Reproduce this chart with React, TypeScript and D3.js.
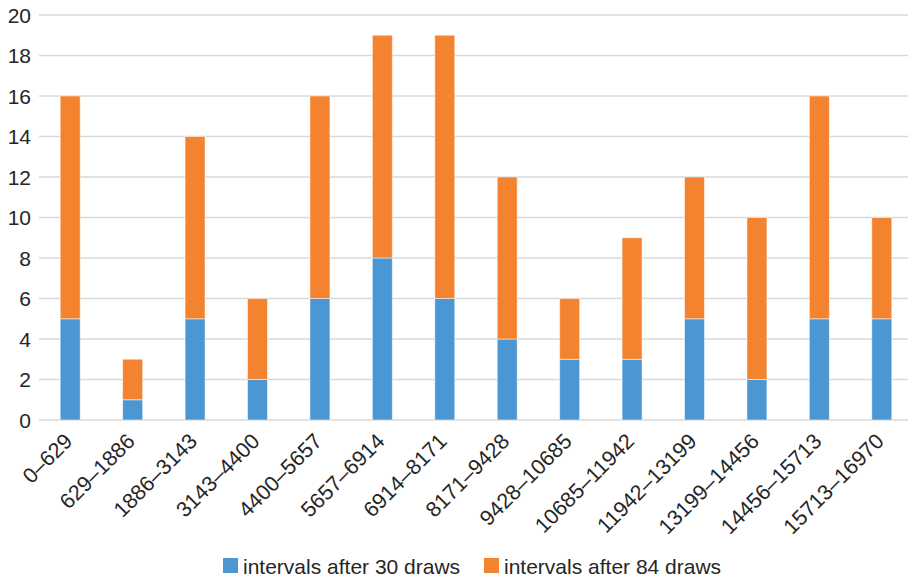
import React from "react";
import * as d3 from "d3";

const categories = [
  "0–629", "629–1886", "1886–3143", "3143–4400", "4400–5657", "5657–6914",
  "6914–8171", "8171–9428", "9428–10685", "10685–11942", "11942–13199",
  "13199–14456", "14456–15713", "15713–16970",
];
const after30 = [5, 1, 5, 2, 6, 8, 6, 4, 3, 3, 5, 2, 5, 5];
const after84 = [11, 2, 9, 4, 10, 11, 13, 8, 3, 6, 7, 8, 11, 5];
const yTicks = [0, 2, 4, 6, 8, 10, 12, 14, 16, 18, 20];
const seriesNames = ["intervals after 30 draws", "intervals after 84 draws"];
const colors = ["#4b97d3", "#f4832f"];

const W = 908;
const H = 579;

export default function App() {
  const x = d3.scaleBand<string>().domain(categories).range([39, 913]).paddingInner(0.68).paddingOuter(0.34);
  const y = d3.scaleLinear().domain([0, 20]).range([420, 15]);

  const rows = categories.map((c, i) => ({ cat: c, a: after30[i], b: after84[i] }));
  const stack = d3.stack<any>().keys(["a", "b"])(rows);
  const font = "'Liberation Sans', Arial, Helvetica, sans-serif";

  return (
    <svg width={W} height={H} style={{ position: "absolute", left: 0, top: 0 }} fontFamily={font}>
      <rect width={W} height={H} fill="#fff" />
      {yTicks.map((t) => (
        <g key={t}>
          <line x1={39} x2={W} y1={y(t)} y2={y(t)} stroke="#d9d9d9" strokeWidth={1.5} />
          <text x={31} y={y(t)} dy="0.36em" textAnchor="end" fontSize={21} fill="#262626">{t}</text>
        </g>
      ))}
      {stack.map((s, si) => (
        <g key={si}>
          {s.map((d, i) => (
            <rect
              key={i}
              x={x(categories[i])!}
              width={x.bandwidth()}
              y={y(d[1])}
              height={y(d[0]) - y(d[1])}
              fill={colors[si]}
              stroke="#ffffff"
              strokeOpacity={0.5}
              strokeWidth={1}
            />
          ))}
        </g>
      ))}
      {categories.map((c) => {
        const cx = x(c)! + x.bandwidth() / 2 - 2;
        return (
          <text key={c} transform={`translate(${cx},437) rotate(-45)`} textAnchor="end" fontSize={21.5} fill="#262626" dy="0.36em">
            {c}
          </text>
        );
      })}
      {seriesNames.map((n, i) => {
        const lx = [223, 484][i];
        return (
          <g key={n}>
            <rect x={lx} y={558} width={15} height={15} fill={colors[i]} />
            <text x={lx + 20} y={566} dy="0.36em" fontSize={21} fill="#262626">{n}</text>
          </g>
        );
      })}
    </svg>
  );
}
